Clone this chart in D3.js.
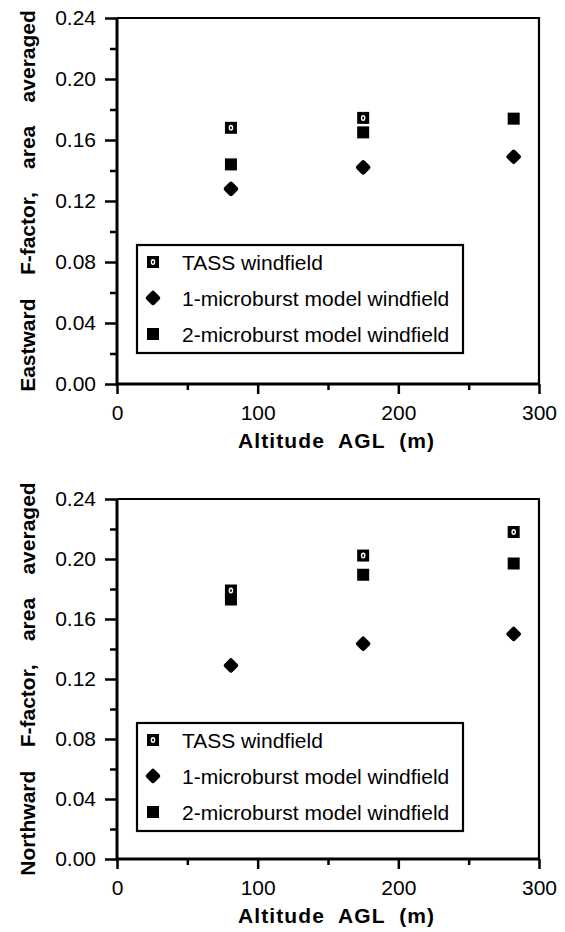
<!DOCTYPE html>
<html>
<head>
<meta charset="utf-8">
<script src="https://cdn.jsdelivr.net/npm/d3@7"></script>
<style>
  body { margin: 0; background: #fff; }
  text { font-family: "Liberation Sans", Arial, sans-serif; fill: #000; }
</style>
</head>
<body>
<script>
// Altitudes (m) at which the F-factor was averaged
const altitudes = [81, 175, 282];

// Eastward F-factor
const eastTass = [0.168, 0.1745, null];
const eastOneBurst = [0.128, 0.142, 0.149];
const eastTwoBurst = [0.144, 0.165, 0.174];

// Northward F-factor
const northTass = [0.179, 0.2023, 0.218];
const northOneBurst = [0.129, 0.1435, 0.150];
const northTwoBurst = [0.173, 0.1895, 0.197];

const seriesNames = ['TASS windfield', '1-microburst model windfield', '2-microburst model windfield'];
const yMajorTicks = [0, 0.04, 0.08, 0.12, 0.16, 0.20, 0.24];
const yMinorTicks = [0.02, 0.06, 0.10, 0.14, 0.18, 0.22];
const xMajorTicks = [0, 100, 200, 300];
const xMinorTicks = [50, 150, 250];

class ScatterPanel {
  constructor(svg, top, bottom, left, right) {
    this.svg = svg;
    this.top = top;
    this.bottom = bottom;
    this.left = left;
    this.right = right;

    this.x = d3.scaleLinear().domain([0, 300]).range([left, right]);
    this.y = d3.scaleLinear().domain([0, 0.24]).range([bottom, top]);
    this.g = svg.append('g');
  }

  // marker shapes, keyed by series index
  _marker(sel, kind) {
    if (kind === 1) {
      const r = 5;
      sel.append('path')
        .attr('d', `M0,${-r}L${r},0L0,${r}L${-r},0Z`)
        .attr('fill', '#000')
        .attr('stroke', '#000')
        .attr('stroke-width', 4.5)
        .attr('stroke-linejoin', 'round');
      return;
    }
    sel.append('rect')
      .attr('x', -6).attr('y', -6)
      .attr('width', 12).attr('height', 12)
      .attr('fill', '#000');
    if (kind === 0) {
      sel.append('ellipse')
        .attr('rx', 1.6).attr('ry', 2.3)
        .attr('fill', 'none')
        .attr('stroke', '#fff')
        .attr('stroke-width', 1.4);
    }
  }

  drawAxes(yTitle) {
    const g = this.g;

    // Y axis, major + minor ticks
    g.append('g')
      .attr('transform', `translate(${this.left},0)`)
      .call(d3.axisLeft(this.y).tickValues(yMajorTicks).tickSize(12)
        .tickPadding(9).tickFormat(d3.format('.2f')))
      .call(a => a.select('.domain').remove())
      .call(a => a.selectAll('line').attr('stroke-width', 2.5))
      .call(a => a.selectAll('text').attr('font-size', 21)
        .attr('font-family', '"Liberation Sans", Arial, sans-serif'));

    g.append('g')
      .attr('transform', `translate(${this.left},0)`)
      .call(d3.axisLeft(this.y).tickValues(yMinorTicks).tickSize(7).tickFormat(''))
      .call(a => a.select('.domain').remove())
      .call(a => a.selectAll('line').attr('stroke-width', 2.5));

    // X axis, major + minor ticks
    g.append('g')
      .attr('transform', `translate(0,${this.bottom})`)
      .call(d3.axisBottom(this.x).tickValues(xMajorTicks).tickSize(10)
        .tickPadding(11).tickFormat(d3.format('d')))
      .call(a => a.select('.domain').remove())
      .call(a => a.selectAll('line').attr('stroke-width', 2.5))
      .call(a => a.selectAll('text').attr('font-size', 21)
        .attr('font-family', '"Liberation Sans", Arial, sans-serif'));

    g.append('g')
      .attr('transform', `translate(0,${this.bottom})`)
      .call(d3.axisBottom(this.x).tickValues(xMinorTicks).tickSize(6).tickFormat(''))
      .call(a => a.select('.domain').remove())
      .call(a => a.selectAll('line').attr('stroke-width', 2.5));

    // Frame
    g.append('path')
      .attr('d', `M${this.left},${this.top}H${this.right}V${this.bottom}`)
      .attr('fill', 'none').attr('stroke', '#000').attr('stroke-width', 2.2);
    g.append('path')
      .attr('d', `M${this.left},${this.top}V${this.bottom}H${this.right}`)
      .attr('fill', 'none').attr('stroke', '#000').attr('stroke-width', 3);

    // Titles
    g.append('text')
      .attr('transform', `translate(27,${(this.top + this.bottom) / 2}) rotate(-90)`)
      .attr('text-anchor', 'middle')
      .attr('dominant-baseline', 'central')
      .attr('font-size', 21)
      .attr('font-weight', 'bold')
      .style('white-space', 'pre')
      .text(yTitle);

    g.append('text')
      .attr('x', 336)
      .attr('y', this.bottom + 56)
      .attr('text-anchor', 'middle')
      .attr('dominant-baseline', 'central')
      .attr('font-size', 21)
      .attr('font-weight', 'bold')
      .attr('textLength', 196)
      .attr('lengthAdjust', 'spacing')
      .style('white-space', 'pre')
      .text('Altitude  AGL  (m)');
  }

  drawPoints(series) {
    // 1-microburst, then 2-microburst, TASS on top
    [1, 2, 0].forEach(k => {
      const pts = altitudes
        .map((a, i) => ({ a, v: series[k][i] }))
        .filter(d => d.v != null);
      this.g.selectAll(null)
        .data(pts)
        .enter()
        .append('g')
          .attr('transform', d => `translate(${this.x(d.a)},${this.y(d.v)})`)
          .each((d, i, nodes) => this._marker(d3.select(nodes[i]), k));
    });
  }

  drawLegend(offsetTop) {
    const lx = this.left + 20,
          ly = this.top + offsetTop;
    const legend = this.g.append('g')
      .attr('transform', `translate(${lx},${ly})`);

    legend.append('rect')
      .attr('width', 326).attr('height', 108)
      .attr('fill', '#fff')
      .attr('stroke', '#000')
      .attr('stroke-width', 2.2);

    const rows = legend.selectAll('g')
      .data(seriesNames)
      .enter()
      .append('g')
        .attr('transform', (d, i) => `translate(16,${17 + i * 36})`);

    rows.each((d, i, nodes) => this._marker(d3.select(nodes[i]), i));

    rows.append('text')
      .attr('x', 29)
      .attr('dominant-baseline', 'central')
      .attr('font-size', 21)
      .text(d => d);
  }
}

const svg = d3.select('body').append('svg')
  .attr('width', 565)
  .attr('height', 932);

const east = new ScatterPanel(svg, 18, 384, 117, 539);
east.drawAxes('Eastward    F-factor,    area    averaged');
east.drawPoints([eastTass, eastOneBurst, eastTwoBurst]);
east.drawLegend(227);

const north = new ScatterPanel(svg, 499, 859, 117, 539);
north.drawAxes('Northward    F-factor,    area    averaged');
north.drawPoints([northTass, northOneBurst, northTwoBurst]);
north.drawLegend(224);
</script>
</body>
</html>
